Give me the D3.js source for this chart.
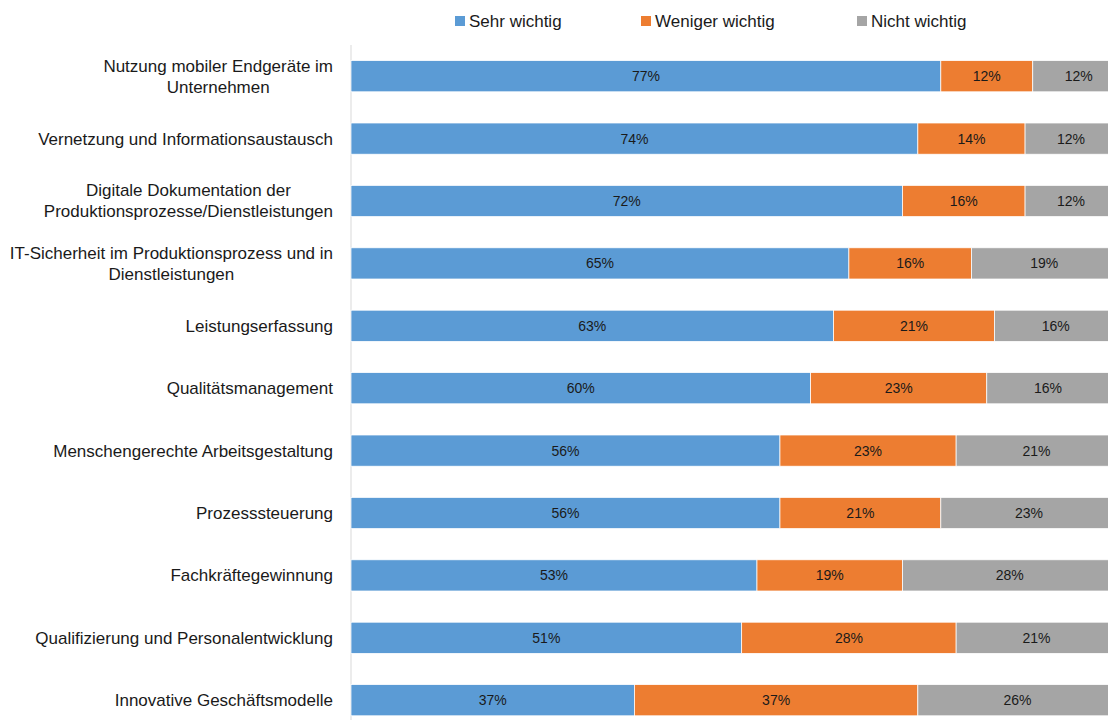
<!DOCTYPE html>
<html>
<head>
<meta charset="utf-8">
<script src="https://cdn.jsdelivr.net/npm/d3@7"></script>
<style>
  body { margin: 0; background: #fff; }
  svg { display: block; font-family: 'Liberation Sans', Arial, sans-serif; }
</style>
</head>
<body>
<div class="graph"></div>
<script>
const categories = [
    ['Nutzung mobiler Endgeräte im', 'Unternehmen'],
    ['Vernetzung und Informationsaustausch'],
    ['Digitale Dokumentation der', 'Produktionsprozesse/Dienstleistungen'],
    ['IT-Sicherheit im Produktionsprozess und in', 'Dienstleistungen'],
    ['Leistungserfassung'],
    ['Qualitätsmanagement'],
    ['Menschengerechte Arbeitsgestaltung'],
    ['Prozesssteuerung'],
    ['Fachkräftegewinnung'],
    ['Qualifizierung und Personalentwicklung'],
    ['Innovative Geschäftsmodelle']
];
const seriesNames = ['Sehr wichtig', 'Weniger wichtig', 'Nicht wichtig'];
const sehrWichtig = [77, 74, 72, 65, 63, 60, 56, 56, 53, 51, 37];
const wenigerWichtig = [12, 14, 16, 16, 21, 23, 23, 21, 19, 28, 37];
const nichtWichtig = [12, 12, 12, 19, 16, 16, 21, 23, 28, 21, 26];
const colors = ['#5b9bd5', '#ed7d31', '#a5a5a5'];

const width = 1108, height = 720;
const margin = { top: 45, left: 351 };

const svg = d3.select('.graph')
    .append('svg')
    .attr('width', width)
    .attr('height', height);

const rows = categories.map((c, i) => ({
    key: i,
    label: c,
    values: [sehrWichtig[i], wenigerWichtig[i], nichtWichtig[i]]
}));

const xScale = d3.scaleLinear()
    .domain([0, 100])
    .range([margin.left, margin.left + 766]);
const yScale = d3.scaleBand()
    .domain(rows.map(d => d.key))
    .range([margin.top, margin.top + 62.4 * rows.length])
    .paddingInner(0.5)
    .paddingOuter(0.25);

// vertical axis line
svg.append('line')
    .attr('x1', margin.left).attr('x2', margin.left)
    .attr('y1', margin.top).attr('y2', height)
    .attr('stroke', '#d9d9d9')
    .attr('stroke-width', 1);

const segments = [];
rows.forEach(r => {
    let acc = 0;
    r.values.forEach((v, j) => {
        segments.push({ key: r.key, start: acc, value: v, series: j });
        acc += v;
    });
});

svg.selectAll('rect.seg')
    .data(segments)
    .enter()
    .append('rect')
    .classed('seg', true)
    .attr('x', d => xScale(d.start))
    .attr('y', d => yScale(d.key))
    .attr('width', d => xScale(d.start + d.value) - xScale(d.start))
    .attr('height', yScale.bandwidth())
    .attr('fill', d => colors[d.series])
    .attr('stroke', '#fff')
    .attr('stroke-width', 0.75);

svg.selectAll('.bar-label')
    .data(segments)
    .enter()
    .append('text')
    .classed('bar-label', true)
    .attr('x', d => xScale(d.start + d.value / 2))
    .attr('y', d => yScale(d.key) + yScale.bandwidth() / 2)
    .attr('dy', '0.35em')
    .attr('text-anchor', 'middle')
    .attr('fill', '#1a1a1a')
    .style('font-size', '14px')
    .text(d => d.value + '%');

// category labels (multi-line, centred block, right aligned)
const labelRight = 333;
const lineH = 21;
const catGroups = svg.selectAll('.cat')
    .data(rows)
    .enter()
    .append('text')
    .classed('cat', true)
    .attr('fill', '#1a1a1a')
    .style('font-size', '17px')
    .attr('text-anchor', 'middle');

catGroups.each(function (d) {
    const t = d3.select(this);
    const cy = yScale(d.key) + yScale.bandwidth() / 2;
    const n = d.label.length;
    d.label.forEach((line, k) => {
        t.append('tspan')
            .attr('y', cy + (k - (n - 1) / 2) * lineH)
            .attr('dy', '0.35em')
            .text(line);
    });
    // widest line sets block width, block is right aligned
    let w = 0;
    t.selectAll('tspan').each(function () { w = Math.max(w, this.getComputedTextLength()); });
    t.selectAll('tspan').attr('x', labelRight - w / 2);
});

// legend
const legendX = [455, 641, 857];
const legend = svg.selectAll('.legend')
    .data(seriesNames)
    .enter()
    .append('g')
    .classed('legend', true)
    .attr('transform', (d, i) => `translate(${legendX[i]},21)`);
legend.append('rect')
    .attr('x', 0).attr('y', -5)
    .attr('width', 10).attr('height', 10)
    .attr('fill', (d, i) => colors[i]);
legend.append('text')
    .attr('x', 14)
    .attr('dy', '0.35em')
    .attr('fill', '#1a1a1a')
    .style('font-size', '17px')
    .text(d => d);
</script>
</body>
</html>
